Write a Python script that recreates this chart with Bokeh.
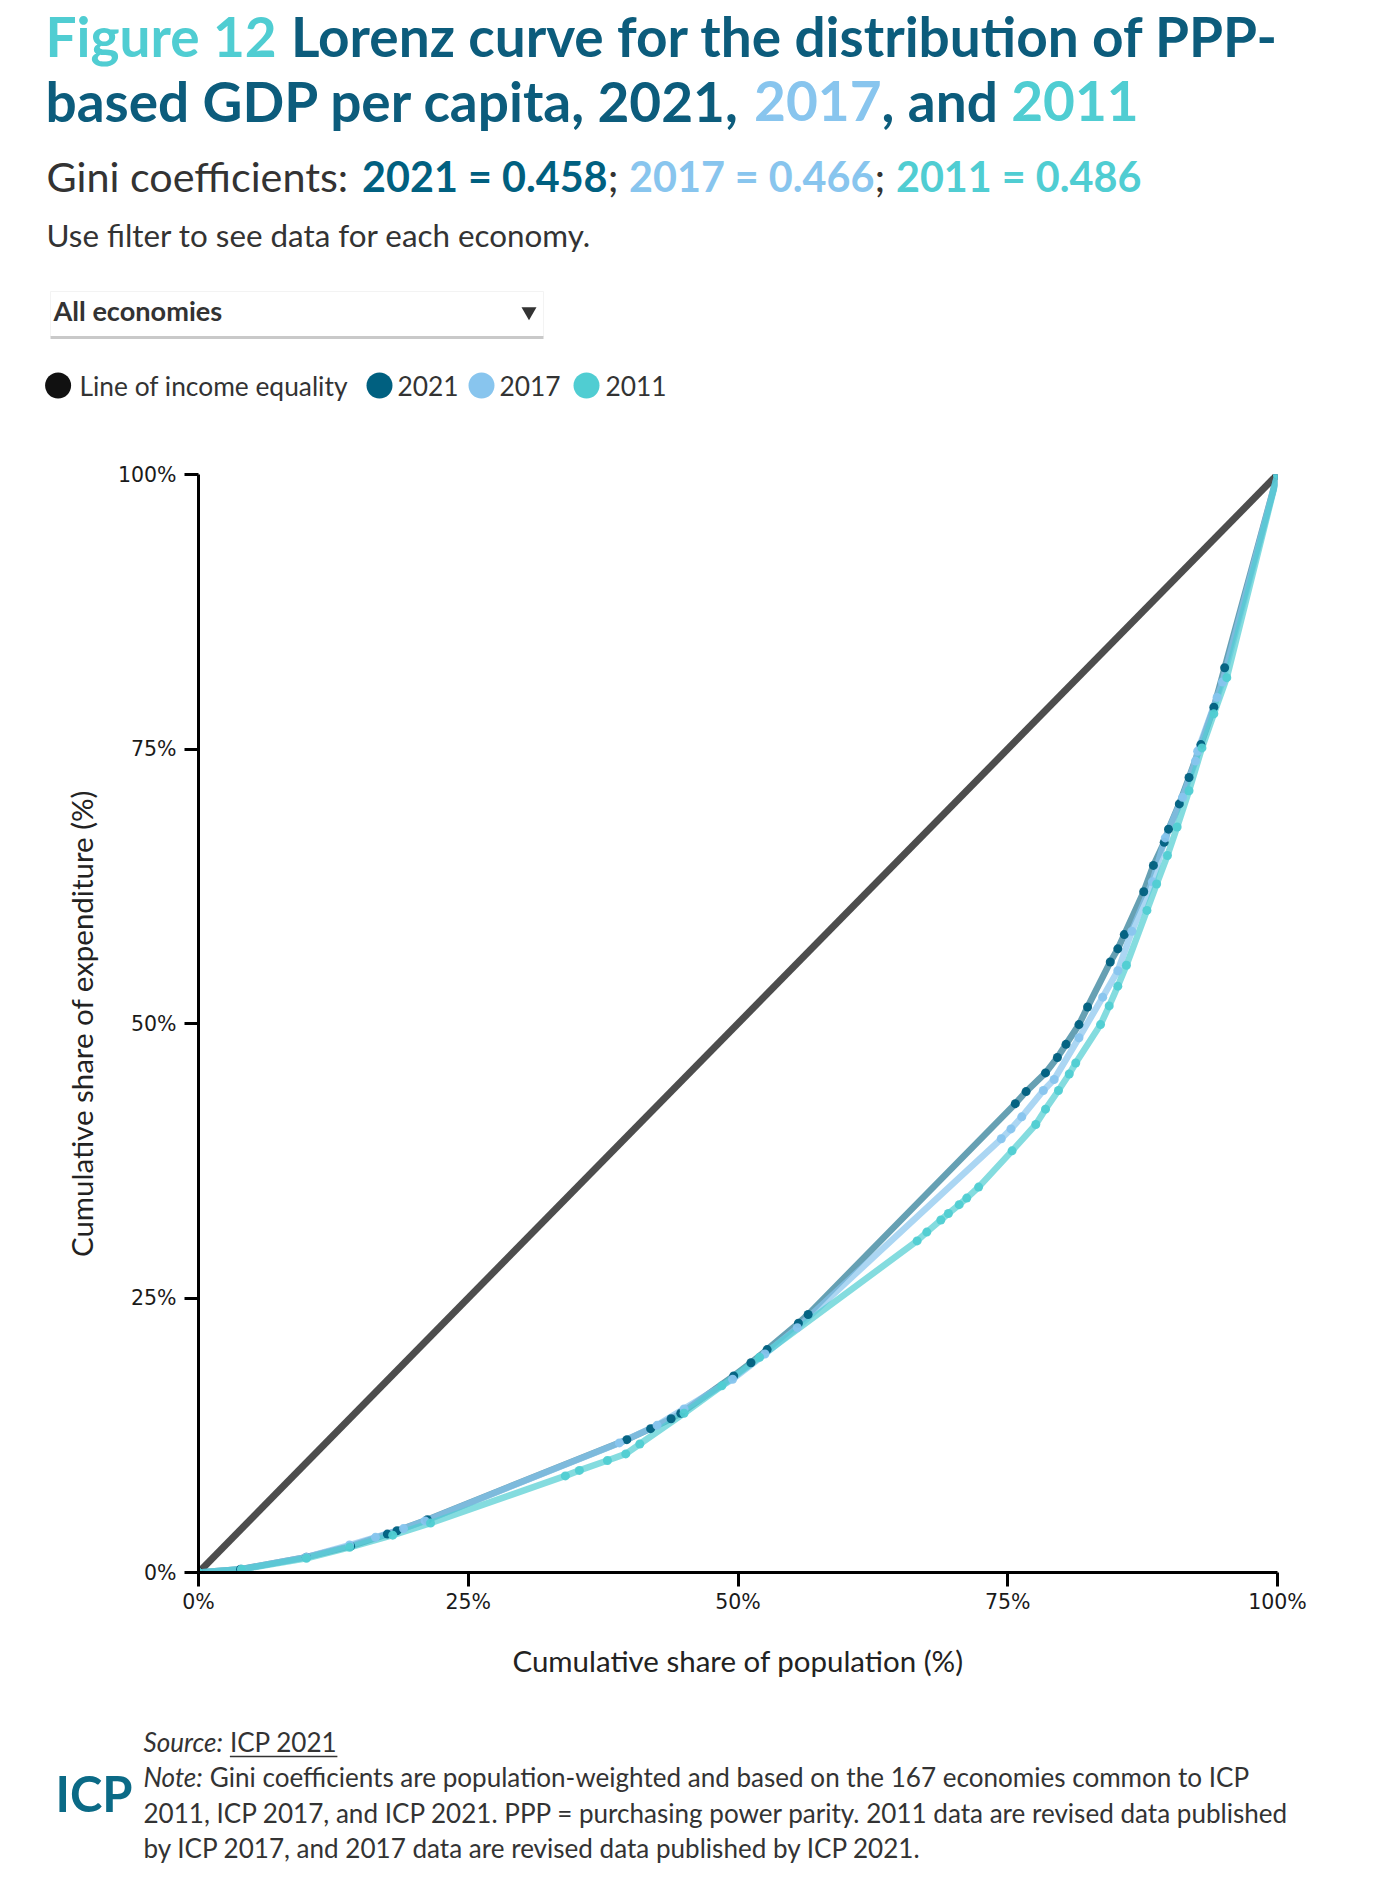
import glob, os, struct
from bokeh.plotting import figure
from bokeh.models import Range1d, FixedTicker, PrintfTickFormatter
from bokeh.core.properties import value
from bokeh.embed import file_html
from bokeh.resources import INLINE

# ---------------- data (percent) ----------------
equality_x = [0, 100]
equality_y = [0, 100]

x2021 = [0, 3.9, 10.0, 14.1, 17.5, 18.4, 21.2, 39.7, 41.9, 43.8, 44.7, 49.6, 51.2, 52.7,
         55.6, 56.5, 75.7, 76.7, 78.5, 79.6, 80.4, 81.6, 82.4, 84.5, 85.2, 85.8, 87.6,
         88.5, 89.5, 89.9, 90.9, 91.8, 92.9, 94.1, 95.1, 100]
y2021 = [0, 0.3, 1.4, 2.4, 3.5, 3.8, 4.8, 12.1, 13.1, 14.0, 14.5, 17.9, 19.1, 20.3,
         22.7, 23.5, 42.7, 43.8, 45.5, 46.9, 48.1, 49.9, 51.5, 55.6, 56.8, 58.1, 62.0,
         64.4, 66.5, 67.7, 70.0, 72.4, 75.4, 78.8, 82.4, 100]

x2017 = [0, 4.0, 10.0, 14.0, 16.4, 19.0, 21.0, 39.0, 42.5, 45.0, 49.5, 52.5, 55.5,
         74.4, 75.3, 76.3, 78.3, 79.3, 81.6, 83.8, 85.2, 86.5, 88.4, 89.6, 91.2, 92.4,
         92.6, 94.4, 94.9, 100]
y2017 = [0, 0.3, 1.4, 2.5, 3.2, 4.0, 4.7, 11.8, 13.4, 14.9, 17.6, 19.9, 22.3,
         39.5, 40.4, 41.5, 43.9, 44.9, 48.7, 52.4, 54.8, 58.4, 62.9, 66.9, 70.6, 73.9,
         74.8, 79.7, 81.1, 100]

x2011 = [0, 4.0, 10.0, 14.0, 18.0, 21.5, 34.0, 35.3, 37.9, 39.6, 40.9, 45.0, 48.5, 52.0,
         66.6, 67.5, 68.8, 69.5, 70.5, 71.2, 72.3, 75.4, 77.6, 78.5, 79.7, 80.7, 81.3,
         83.6, 84.4, 85.2, 86.0, 87.9, 88.8, 89.8, 90.7, 91.8, 93.0, 94.1, 95.3, 100]
y2011 = [0, 0.3, 1.3, 2.3, 3.4, 4.5, 8.8, 9.3, 10.2, 10.8, 11.7, 14.5, 17.0, 19.6,
         30.2, 31.0, 32.1, 32.7, 33.5, 34.1, 35.1, 38.4, 40.8, 42.2, 43.9, 45.4, 46.4,
         49.9, 51.6, 53.4, 55.3, 60.3, 62.7, 65.3, 67.9, 71.2, 75.1, 78.2, 81.5, 100]

tick_values = [0, 25, 50, 75, 100]
series_names = ["2021", "2017", "2011"]
gini_values = ["0.458", "0.466", "0.486"]

# ---------------- colours ----------------
C_DARK = "#006080"
C_LIGHT = "#88c5ee"
C_TURQ = "#50cdd2"
C_TITLE = "#0c5c7c"
C_TEXT = "#333333"
FONT = "Lato"
BASE_K = 0.41   # empirical shift so that y is the visual baseline

# ---------------- font metrics (for placing multi-coloured text) ----------------
def _find(pattern):
    for root in ["/usr/share/fonts", "/usr/local/share/fonts", os.path.expanduser("~/.fonts"),
                 os.path.expanduser("~/.local/share/fonts")]:
        hits = glob.glob(os.path.join(root, "**", pattern), recursive=True)
        if hits:
            return hits[0]
    return None

def _load(path):
    try:
        data = open(path, "rb").read()
        base = 0
        if data[:4] == b"ttcf":
            base = struct.unpack(">I", data[12:16])[0]
        num = struct.unpack(">H", data[base + 4:base + 6])[0]
        tables = {}
        for i in range(num):
            o = base + 12 + 16 * i
            tag = data[o:o + 4].decode("latin-1")
            off = struct.unpack(">I", data[o + 8:o + 12])[0]
            tables[tag] = off
        upem = struct.unpack(">H", data[tables["head"] + 18:tables["head"] + 20])[0]
        nhm = struct.unpack(">H", data[tables["hhea"] + 34:tables["hhea"] + 36])[0]
        hm = tables["hmtx"]
        adv = [struct.unpack(">H", data[hm + 4 * i:hm + 4 * i + 2])[0] for i in range(nhm)]
        cm = tables["cmap"]
        nsub = struct.unpack(">H", data[cm + 2:cm + 4])[0]
        cmap = {}
        for i in range(nsub):
            pid, eid, off = struct.unpack(">HHI", data[cm + 4 + 8 * i:cm + 12 + 8 * i])
            st = cm + off
            fmt = struct.unpack(">H", data[st:st + 2])[0]
            if fmt != 4 or cmap:
                continue
            segx2 = struct.unpack(">H", data[st + 6:st + 8])[0]
            seg = segx2 // 2
            ends = struct.unpack(">%dH" % seg, data[st + 14:st + 14 + segx2])
            starts = struct.unpack(">%dH" % seg, data[st + 16 + segx2:st + 16 + 2 * segx2])
            deltas = struct.unpack(">%dh" % seg, data[st + 16 + 2 * segx2:st + 16 + 3 * segx2])
            ro_pos = st + 16 + 3 * segx2
            ros = struct.unpack(">%dH" % seg, data[ro_pos:ro_pos + segx2])
            for k in range(seg):
                for c in range(max(starts[k], 32), min(ends[k], 0x2100) + 1):
                    if ros[k] == 0:
                        g = (c + deltas[k]) & 0xFFFF
                    else:
                        a = ro_pos + 2 * k + ros[k] + 2 * (c - starts[k])
                        g = struct.unpack(">H", data[a:a + 2])[0]
                        if g:
                            g = (g + deltas[k]) & 0xFFFF
                    cmap[c] = g
        return (upem, adv, cmap)
    except Exception:
        return None

_METRICS = {}
for style, pat in [("normal", "Lato-Regular.ttf"), ("bold", "Lato-Bold.ttf"),
                   ("italic", "Lato-Italic.ttf")]:
    pth = _find(pat)
    _METRICS[style] = _load(pth) if pth else None

def text_width(txt, size, style="normal"):
    m = _METRICS.get(style)
    if m is None:
        per = 0.53 if style == "bold" else 0.50
        return len(txt) * per * size
    upem, adv, cmap = m
    tot = 0
    for ch in txt:
        g = cmap.get(ord(ch), 0)
        tot += adv[min(g, len(adv) - 1)]
    return tot / upem * size

def fit_size(segs, target, nominal):
    w1 = sum(text_width(t, 1.0, s) for t, s, _ in segs)
    size = target / w1 if w1 > 0 else nominal
    return max(nominal * 0.8, min(nominal * 1.25, size))

def draw_segments(p, x0, y, segs, size):
    x = x0
    ends = []
    for txt, style, color in segs:
        p.text(x=[x], y=[y - BASE_K * size], text=[txt], text_font=value(FONT),
               text_font_size=value("%.2fpx" % size), text_font_style=style,
               text_color=color, text_baseline="alphabetic", text_align="left",
               text_line_height=1.0)
        w = text_width(txt, size, style)
        ends.append((x, x + w))
        x += w
    return ends

def blank_fig(h, y_top, y_bottom):
    f = figure(width=1380, height=h, x_range=Range1d(0, 1380), y_range=Range1d(y_bottom, y_top),
               x_axis_type=None, y_axis_type=None, toolbar_location=None,
               output_backend="svg", min_border=0, outline_line_color=None)
    f.grid.visible = False
    return f

# ---------------- header ----------------
head = blank_fig(440, 0, 440)

t1 = [("Figure 12 ", "bold", C_TURQ), ("Lorenz curve for the distribution of PPP-", "bold", C_TITLE)]
t2 = [("based GDP per capita, 2021, ", "bold", C_TITLE), ("2017", "bold", C_LIGHT),
      (", and ", "bold", C_TITLE), ("2011", "bold", C_TURQ)]
ts = fit_size(t1, 1238, 48)
draw_segments(head, 45, 58, t1, ts)
draw_segments(head, 45, 123, t2, ts)

sub = [("Gini coefficients: ", "normal", C_TEXT),
       ("%s = %s" % (series_names[0], gini_values[0]), "bold", C_DARK),
       ("; ", "normal", C_TEXT),
       ("%s = %s" % (series_names[1], gini_values[1]), "bold", C_LIGHT),
       ("; ", "normal", C_TEXT),
       ("%s = %s" % (series_names[2], gini_values[2]), "bold", C_TURQ)]
ss = fit_size(sub, 1095, 40)
draw_segments(head, 46, 192, sub, ss)

filt = [("Use filter to see data for each economy.", "normal", C_TEXT)]
fs = fit_size(filt, 549, 28)
draw_segments(head, 46, 247, filt, fs)

# dropdown
head.quad(left=[50], right=[543], top=[291], bottom=[336], fill_color="white",
          line_color="#f3f3f3", line_width=1)
head.segment(x0=[50], y0=[337], x1=[543], y1=[337], line_color="#c9c9c9", line_width=3)
dd = [("All economies", "bold", C_TEXT)]
ds = fit_size(dd, 169, 26)
draw_segments(head, 53, 321, dd, ds)
head.scatter(x=[528.5], y=[311], marker="inverted_triangle", size=15, fill_color=C_TEXT,
             line_color=None)

# legend
leg_items = [("Line of income equality", "#111111", 57.6, 79),
             (series_names[0], C_DARK, 379, 397),
             (series_names[1], C_LIGHT, 481, 499),
             (series_names[2], C_TURQ, 586, 605)]
ls = fit_size([("Line of income equality", "normal", C_TEXT)], 269, 26)
for lab, col, cx, tx in leg_items:
    head.scatter(x=[cx], y=[385], marker="circle", size=26, fill_color=col, line_color=None)
    draw_segments(head, tx, 396.5, [(lab, "normal", C_TEXT)], ls)

# ---------------- main chart ----------------
p = figure(width=1380, height=1260, x_range=Range1d(0, 100), y_range=Range1d(0, 100),
           toolbar_location=None, output_backend="svg",
           min_border_left=198, min_border_right=103, min_border_top=34, min_border_bottom=128,
           outline_line_color=None)
p.grid.visible = False

axs = fit_size([("Cumulative share of population (%)", "normal", C_TEXT)], 452, 27)
p.xaxis.axis_label = "Cumulative share of population (%)"
p.yaxis.axis_label = "Cumulative share of expenditure (%)"
for ax in (p.xaxis[0], p.yaxis[0]):
    ax.ticker = FixedTicker(ticks=tick_values)
    ax.formatter = PrintfTickFormatter(format="%d%%")
    ax.axis_line_color = "black"
    ax.axis_line_width = 3
    ax.major_tick_line_color = "black"
    ax.major_tick_line_width = 3
    ax.major_tick_out = 14
    ax.major_tick_in = 0
    ax.minor_tick_line_color = None
    ax.major_label_text_font = "DejaVu Sans"
    ax.major_label_text_font_size = "20.5px"
    ax.major_label_text_color = "#1a1a1a"
    ax.axis_label_text_font = FONT
    ax.axis_label_text_font_size = "%.2fpx" % axs
    ax.axis_label_text_font_style = "normal"
    ax.axis_label_text_color = "#222222"
p.xaxis.major_label_standoff = 3
p.yaxis.major_label_standoff = 8
p.xaxis.axis_label_standoff = 26
p.yaxis.axis_label_standoff = 16

# line of equality
p.line(equality_x, equality_y, line_color="#4d4d4d", line_width=7)
p.scatter(equality_x, equality_y, size=10, fill_color="#111111", line_color=None)

# lorenz curves
p.line(x2021, y2021, line_color=C_DARK, line_alpha=0.6, line_width=6.5)
p.line(x2017, y2017, line_color=C_LIGHT, line_alpha=0.7, line_width=6.5)
p.line(x2011, y2011, line_color=C_TURQ, line_alpha=0.7, line_width=6.5)
p.scatter(x2021, y2021, size=9, fill_color=C_DARK, line_color=None, fill_alpha=0.95)
p.scatter(x2017, y2017, size=9, fill_color=C_LIGHT, line_color=None, fill_alpha=0.95)
p.scatter(x2011, y2011, size=9, fill_color=C_TURQ, line_color=None, fill_alpha=0.95)

# ---------------- footer ----------------
foot = blank_fig(192, 1700, 1892)
fsz = fit_size([("2011, ICP 2017, and ICP 2021. PPP = purchasing power parity. 2011 data are revised data published",
                 "normal", C_TEXT)], 1150, 24)
src = draw_segments(foot, 143, 1752, [("Source: ", "italic", C_TEXT), ("ICP 2021", "normal", C_TEXT)], fsz)
foot.segment(x0=[src[1][0]], y0=[1756], x1=[src[1][1]], y1=[1756], line_color=C_TEXT, line_width=1.5)
draw_segments(foot, 143, 1787, [("Note: ", "italic", C_TEXT),
              ("Gini coefficients are population-weighted and based on the 167 economies common to ICP",
               "normal", C_TEXT)], fsz)
draw_segments(foot, 143, 1823, [("2011, ICP 2017, and ICP 2021. PPP = purchasing power parity. 2011 data are revised data published",
                                 "normal", C_TEXT)], fsz)
draw_segments(foot, 143, 1858, [("by ICP 2017, and 2017 data are revised data published by ICP 2021.",
                                 "normal", C_TEXT)], fsz)
lg = fit_size([("ICP", "bold", C_TITLE)], 77, 46)
draw_segments(foot, 55, 1813, [("ICP", "bold", "#0b6a86")], lg)

# three independent roots stacked (no border syncing between them)
open("out.html", "w").write(file_html([head, p, foot], INLINE))
